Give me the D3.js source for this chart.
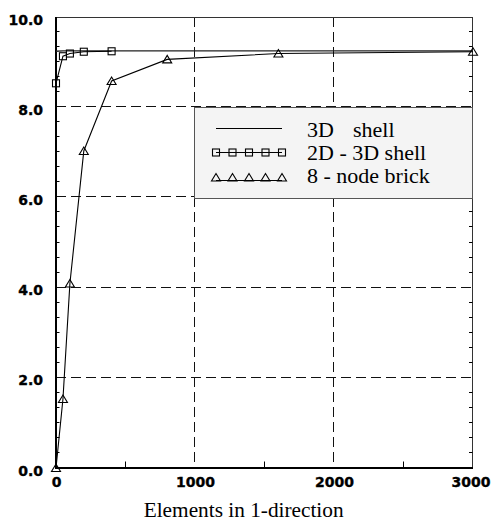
<!DOCTYPE html>
<html>
<head>
<meta charset="utf-8">
<script src="https://cdn.jsdelivr.net/npm/d3@7"></script>
<style>
  html, body { margin: 0; padding: 0; background: #fff; }
  svg { display: block; }
  .tick-label { font-family: "DejaVu Sans", sans-serif; font-weight: bold; font-size: 14px; fill: #000; stroke: #000; stroke-width: 0.35px; }
  .serif { font-family: "Liberation Serif", "Times New Roman", serif; fill: #000; }
</style>
</head>
<body>
<svg id="chart" width="491" height="525"></svg>
<script>
// Elements in the 1-direction (x) and the computed response (y) for each model
const shell3dX = [0, 50, 100, 200, 400, 800, 1600, 3000];
const shell3dY = [9.24, 9.25, 9.25, 9.25, 9.25, 9.25, 9.25, 9.25];

const shell2d3dX = [0, 50, 100, 200, 400];
const shell2d3dY = [8.53, 9.13, 9.19, 9.23, 9.24];

const brickX = [0, 50, 100, 200, 400, 800, 1600, 3000];
const brickY = [0.0, 1.53, 4.09, 7.03, 8.58, 9.06, 9.19, 9.23];

const xTicks = [0, 1000, 2000, 3000];
const xMinorTicks = [500, 1500, 2500];
const yTicks = [0, 2, 4, 6, 8, 10];
const yTickLabels = ["0.0", "2.0", "4.0", "6.0", "8.0", "10.0"];

const legendLabels = ["3D", "2D - 3D shell", "8 - node brick"];

const svg = d3.select("#chart");
const x = d3.scaleLinear().domain([0, 3000]).range([56, 473]);
const y = d3.scaleLinear().domain([0, 10]).range([468, 17]);
const crisp = v => Math.round(v) - 0.5;

// dashed grid
const grid = svg.append("g").attr("stroke", "#111").attr("stroke-width", 1)
  .attr("stroke-dasharray", "10,5").attr("fill", "none");
grid.selectAll("line.gx").data([1000, 2000]).join("line")
  .attr("x1", d => crisp(x(d))).attr("x2", d => crisp(x(d)))
  .attr("y1", y(10)).attr("y2", y(0));
grid.selectAll("line.gy").data([2, 4, 6, 8]).join("line")
  .attr("x1", x(0)).attr("x2", x(3000))
  .attr("y1", d => crisp(y(d))).attr("y2", d => crisp(y(d)));

// frame: thin top/right, heavy left/bottom axes
svg.append("line").attr("x1", x(0)).attr("x2", x(3000)).attr("y1", crisp(y(10)) + 1).attr("y2", crisp(y(10)) + 1)
  .attr("stroke", "#333").attr("stroke-width", 1);
svg.append("line").attr("x1", crisp(x(3000))).attr("x2", crisp(x(3000))).attr("y1", y(10)).attr("y2", y(0))
  .attr("stroke", "#333").attr("stroke-width", 1);

// minor ticks on y (both sides) and x
const yMinor = d3.range(0, 30).map(i => i / 3).filter(v => v > 0 && Math.abs(v / 2 - Math.round(v / 2)) > 1e-6);
const ticks = svg.append("g").attr("stroke", "#000").attr("stroke-width", 1);
ticks.selectAll("line.yl").data(yMinor).join("line")
  .attr("x1", x(0)).attr("x2", x(0) + 3.5)
  .attr("y1", d => crisp(y(d))).attr("y2", d => crisp(y(d)));
ticks.selectAll("line.yr").data(yMinor).join("line")
  .attr("x1", crisp(x(3000))).attr("x2", crisp(x(3000)) - 3.5)
  .attr("y1", d => crisp(y(d))).attr("y2", d => crisp(y(d)));
ticks.selectAll("line.xm").data(xMinorTicks).join("line")
  .attr("x1", d => crisp(x(d))).attr("x2", d => crisp(x(d)))
  .attr("y1", y(0)).attr("y2", y(0) - 6.5);

svg.append("line").attr("x1", x(0)).attr("x2", x(0)).attr("y1", y(10)).attr("y2", y(0) + 1)
  .attr("stroke", "#000").attr("stroke-width", 2);
svg.append("line").attr("x1", x(0) - 1).attr("x2", x(3000)).attr("y1", y(0)).attr("y2", y(0))
  .attr("stroke", "#000").attr("stroke-width", 2);

// tick labels via d3 axes
const yAxis = d3.axisLeft(y).tickValues(yTicks).tickSize(0).tickPadding(13)
  .tickFormat((d, i) => yTickLabels[i]);
const gy = svg.append("g").attr("transform", `translate(${x(0)},0)`).call(yAxis);
gy.select(".domain").remove();
gy.selectAll("text").attr("class", "tick-label").attr("dy", "0.5em");

const xAxis = d3.axisBottom(x).tickValues(xTicks).tickSize(0).tickPadding(9)
  .tickFormat(d3.format("d"));
const gx = svg.append("g").attr("transform", `translate(0,${y(0)})`).call(xAxis);
gx.select(".domain").remove();
gx.selectAll("text").attr("class", "tick-label");
// keep the last label inside the page edge
gx.selectAll("text").filter(d => d === 3000).attr("text-anchor", "end").attr("x", 490 - x(3000));

// marker shapes
function square(g, cx, cy) {
  g.append("rect").attr("x", cx - 3.5).attr("y", cy - 3.5).attr("width", 7).attr("height", 7)
    .attr("fill", "none").attr("stroke", "#000").attr("stroke-width", 1.1);
}
function triangle(g, cx, cy) {
  g.append("path").attr("d", `M${cx - 4.5},${cy + 3.5}L${cx + 4.5},${cy + 3.5}L${cx},${cy - 4}Z`)
    .attr("fill", "none").attr("stroke", "#000").attr("stroke-width", 1.1);
}

const line = d3.line().x(d => x(d[0])).y(d => y(d[1]));
const series = [
  { xs: shell3dX, ys: shell3dY, marker: null, width: 1.4, color: "#222" },
  { xs: shell2d3dX, ys: shell2d3dY, marker: square, width: 1.1, color: "#000" },
  { xs: brickX, ys: brickY, marker: triangle, width: 1.1, color: "#000" }
];
series.forEach(s => {
  const pts = s.xs.map((v, i) => [v, s.ys[i]]);
  svg.append("path").datum(pts).attr("d", line)
    .attr("fill", "none").attr("stroke", s.color).attr("stroke-width", s.width);
  if (s.marker) {
    const g = svg.append("g");
    pts.forEach(p => s.marker(g, x(p[0]), y(p[1])));
  }
});

// legend
const lg = svg.append("g");
lg.append("rect").attr("x", 194.5).attr("y", 107.5).attr("width", 278).attr("height", 91)
  .attr("fill", "#f4f4f4").attr("stroke", "#555").attr("stroke-width", 1);
const rowY = [128.5, 152.5, 180.5];
const sx0 = 216, sx1 = 282;
lg.append("line").attr("x1", sx0).attr("x2", sx1).attr("y1", rowY[0]).attr("y2", rowY[0])
  .attr("stroke", "#000").attr("stroke-width", 1.1);
lg.append("line").attr("x1", sx0).attr("x2", sx1).attr("y1", rowY[1]).attr("y2", rowY[1])
  .attr("stroke", "#000").attr("stroke-width", 1);
lg.append("line").attr("x1", sx0).attr("x2", sx1).attr("y1", rowY[2]).attr("y2", rowY[2])
  .attr("stroke", "#000").attr("stroke-width", 1);
d3.range(5).forEach(i => {
  const cx = sx0 + i * (sx1 - sx0) / 4;
  square(lg, cx, rowY[1]);
  triangle(lg, cx, rowY[2] - 3);
});
const textY = [136.5, 159.5, 182.5];
const t0 = lg.append("text").attr("class", "serif").attr("font-size", 22).attr("y", textY[0]);
t0.append("tspan").attr("x", 307).text(legendLabels[0]);
t0.append("tspan").attr("x", 353).text("shell");
lg.append("text").attr("class", "serif").attr("font-size", 22).attr("x", 307).attr("y", textY[1]).text(legendLabels[1]);
lg.append("text").attr("class", "serif").attr("font-size", 22).attr("x", 307).attr("y", textY[2]).text(legendLabels[2]);

// axis title
svg.append("text").attr("class", "serif").attr("font-size", 21.3)
  .attr("x", x(1350)).attr("y", 517).attr("text-anchor", "middle")
  .text("Elements in 1-direction");
</script>
</body>
</html>
